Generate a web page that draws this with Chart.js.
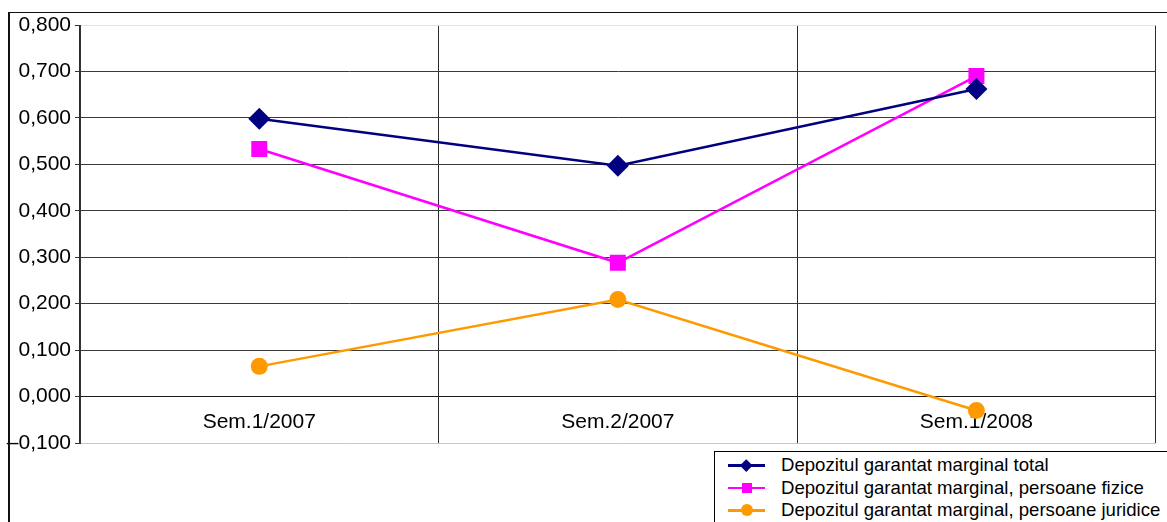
<!DOCTYPE html>
<html>
<head>
<meta charset="utf-8">
<script src="https://cdn.jsdelivr.net/npm/chart.js@4"></script>
<style>
  html, body { margin: 0; padding: 0; background: #fff; overflow: hidden; }
  #wrap { position: relative; width: 1167px; height: 522px; }
  #chart { position: absolute; left: 0; top: 0; }
  #frame { position: absolute; left: 8px; top: 12px; width: 1170px; height: 520px;
           border-top: 1px solid #111; border-left: 2px solid #111; pointer-events: none; }
  #legend { position: absolute; left: 714px; top: 451px; width: 470px; height: 90px;
            border: 1px solid #000; background: #fff;
            font-family: "Liberation Sans", Arial, sans-serif; font-size: 18.6px; color: #000; }
  .row { position: absolute; left: 0; height: 22px; line-height: 22px; width: 100%; }
  .row .ln { position: absolute; left: 13px; top: 10px; width: 37px; height: 2.5px; }
  .row .mk { position: absolute; }
  .row .tx { position: absolute; left: 66px; top: 0; white-space: nowrap; }
</style>
</head>
<body>
<div id="wrap">
  <canvas id="chart" width="1167" height="522"></canvas>
  <div id="frame"></div>
  <div id="legend"></div>
</div>
<script>
const $ = (s) => document.querySelector(s);

/* ---- Data ---- */
const categories = ["Sem.1/2007", "Sem.2/2007", "Sem.1/2008"];
const totalValues    = [0.598, 0.497, 0.662];
const fiziceValues   = [0.533, 0.288, 0.690];
const juridiceValues = [0.065, 0.209, -0.030];
const seriesNames = [
  "Depozitul garantat marginal total",
  "Depozitul garantat marginal, persoane fizice",
  "Depozitul garantat marginal, persoane juridice",
];

/* ---- Colors ---- */
const COLORS = {
  total:    "#000080",  // navy
  fizice:   "#FF00FF",  // magenta
  juridice: "#FF9900",  // orange
};

const FONT = "'Liberation Sans', Arial, sans-serif";

function fmtTick(v) {
  if (Math.abs(v) < 1e-9) v = 0;
  const s = Math.abs(v).toFixed(3).replace(".", ",");
  return v < 0 ? "\u2013" + s : s;
}

function lineSet(label, data, color, style, radius) {
  return {
    label,
    data,
    borderColor: color,
    backgroundColor: color,
    borderWidth: 2.5,
    pointStyle: style,
    pointRadius: radius,
    pointHoverRadius: radius,
    pointBorderWidth: 0,
    tension: 0,
    fill: false,
  };
}

const chart = new Chart($("#chart"), {
  type: "line",
  data: {
    labels: categories,
    datasets: [
      lineSet(seriesNames[0], totalValues, COLORS.total, "rectRot", 11),
      lineSet(seriesNames[1], fiziceValues, COLORS.fizice, "rect", 11.3),
      lineSet(seriesNames[2], juridiceValues, COLORS.juridice, "circle", 8.5),
    ],
  },
  options: {
    responsive: false,
    animation: false,
    layout: { padding: { left: 0, top: 25, right: 8, bottom: 79 } },
    plugins: { legend: { display: false }, tooltip: { enabled: false } },
    scales: {
      x: {
        position: { y: 0 },
        offset: true,
        grid: {
          offset: true,
          drawTicks: false,
          lineWidth: 1,
          color: (c) => (c.index === 3 ? "#c4c4c4" : "#2a2a2a"),
        },
        border: { color: "#1a1a1a", width: 1 },
        ticks: { padding: 13, color: "#000", font: { family: FONT, size: 21 } },
        afterFit: (s) => { s.height = 0; },
      },
      y: {
        min: -0.1,
        max: 0.8,
        ticks: {
          stepSize: 0.1,
          padding: 4,
          color: "#000",
          font: { family: FONT, size: 21 },
          callback: (v) => fmtTick(v),
        },
        grid: {
          tickLength: 5,
          tickColor: "#333",
          color: (c) => {
            const v = c.tick ? c.tick.value : 0;
            if (v > 0.75) return "#e2e2e2";
            if (v < -0.05) return "#c8c8c8";
            return "#3a3a3a";
          },
        },
        border: { color: "#333", width: 1 },
        afterFit: (s) => { s.width = 80; },
      },
    },
  },
});

/* ---- Legend (HTML, built from datasets) ---- */
function buildLegend() {
  const box = $("#legend");
  box.innerHTML = "";
  chart.data.datasets.forEach((ds, i) => {
    const row = document.createElement("div");
    row.className = "row";
    row.style.top = (2 + i * 22.5) + "px";

    const ln = document.createElement("div");
    ln.className = "ln";
    ln.style.background = ds.borderColor;
    row.appendChild(ln);

    const mk = document.createElement("div");
    mk.className = "mk";
    mk.style.background = ds.backgroundColor;
    if (ds.pointStyle === "rectRot") {
      Object.assign(mk.style, { width: "8.5px", height: "8.5px", left: "27px", top: "6.5px", transform: "rotate(45deg)" });
    } else if (ds.pointStyle === "rect") {
      Object.assign(mk.style, { width: "10px", height: "10px", left: "26.5px", top: "6px" });
    } else {
      Object.assign(mk.style, { width: "12px", height: "12px", left: "25.5px", top: "5px", borderRadius: "50%" });
    }
    row.appendChild(mk);

    const tx = document.createElement("span");
    tx.className = "tx";
    tx.textContent = ds.label;
    row.appendChild(tx);

    box.appendChild(row);
  });
}

buildLegend();
</script>
</body>
</html>
